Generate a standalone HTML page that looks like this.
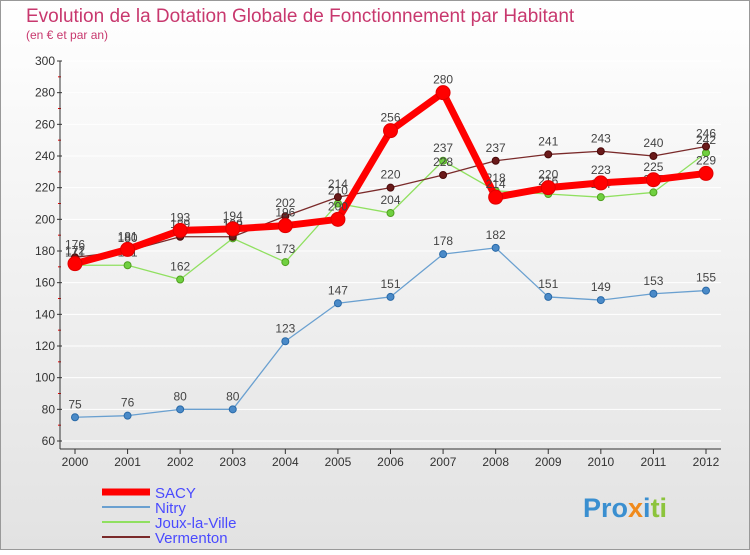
<!DOCTYPE html>
<html><head><meta charset="utf-8"><style>
body{margin:0;width:750px;height:550px;overflow:hidden;font-family:"Liberation Sans",sans-serif;}
</style></head><body>
<svg id="c" width="750" height="550" xmlns="http://www.w3.org/2000/svg">
<defs><linearGradient id="bg" x1="0" y1="0" x2="0" y2="1"><stop offset="0" stop-color="#ffffff"/><stop offset="1" stop-color="#e2e2e2"/></linearGradient></defs>
<rect x="0.5" y="0.5" width="749" height="549" fill="url(#bg)" stroke="#999"/>
<text x="26" y="22" font-size="19" fill="#c8386e">Evolution de la Dotation Globale de Fonctionnement par Habitant</text>
<text x="26" y="39" font-size="12" fill="#c8386e">(en € et par an)</text>
<g id="axes"></g><g id="series"></g><g id="legend"></g>
<text x="583" y="517" font-size="27" font-weight="bold"><tspan fill="#3a8fd0">Pro</tspan><tspan fill="#f08a1c">x</tspan><tspan fill="#3a8fd0">i</tspan><tspan fill="#8cc43c">ti</tspan></text>
</svg>
<script>
const years=[2000,2001,2002,2003,2004,2005,2006,2007,2008,2009,2010,2011,2012];
const yTicks=[60,80,100,120,140,160,180,200,220,240,260,280,300];
const sacy=[172,181,193,194,196,200,256,280,214,220,223,225,229];
const nitry=[75,76,80,80,123,147,151,178,182,151,149,153,155];
const joux=[171,171,162,188,173,210,204,237,218,216,214,217,242];
const vermenton=[176,180,189,189,202,214,220,228,237,241,243,240,246];
const NS="http://www.w3.org/2000/svg";
const x0=75,x1=706,yTop=61,yBot=441,vMin=60,vMax=300;
const xs=i=>x0+(x1-x0)*i/(years.length-1);
const ys=v=>yBot-(v-vMin)/(vMax-vMin)*(yBot-yTop);
function mk(tag,at,parent){const e=document.createElementNS(NS,tag);for(const k in at)e.setAttribute(k,at[k]);parent.appendChild(e);return e;}
const ax=document.getElementById('axes');
yTicks.forEach(t=>{
 const g=mk('line',{x1:x0-15,x2:x1+15,y1:ys(t),y2:ys(t),stroke:'#fff','stroke-width':1},ax);
 
 
 const tk=mk('line',{x1:57,x2:62,y1:ys(t),y2:ys(t),stroke:'#333'},ax);
 
 
 const lb=mk('text',{x:55,y:ys(t)+4,'text-anchor':'end','font-size':12,fill:'#333'},ax);
 lb.textContent=t;
 
 
 if(t<300){const m=mk('line',{x1:58,x2:61,y1:ys(t+10),y2:ys(t+10),stroke:'#e00'},ax);
 
 }
});
const ya=mk('line',{x1:60,x2:60,y1:yTop,y2:yBot+8,stroke:'#333'},ax);


const xa=mk('line',{x1:60,x2:x1+15,y1:yBot+8,y2:yBot+8,stroke:'#333'},ax);


years.forEach((y,i)=>{
 const tk=mk('line',{x1:xs(i),x2:xs(i),y1:yBot+8,y2:yBot+13,stroke:'#333'},ax);
 
 
 const lb=mk('text',{x:xs(i),y:yBot+25,'text-anchor':'middle','font-size':12,fill:'#333'},ax);
 lb.textContent=y;
 
 
});
const S=document.getElementById('series');
function drawSeries(vals,name,color,lw,r,dotFill,dotStroke){
 const g=mk('g',{},S);
 
 
 const pl=mk('polyline',{points:vals.map((v,i)=>xs(i)+','+ys(v)).join(' '),fill:'none',stroke:color,'stroke-width':lw,'stroke-linejoin':'round'},g);
 
 
 vals.forEach((v,i)=>{
  const c=mk('circle',{cx:xs(i),cy:ys(v),r:r,fill:dotFill,stroke:dotStroke,'stroke-width':1},g);
  
  
  const t=mk('text',{x:xs(i),y:ys(v)-9,'text-anchor':'middle','font-size':12,fill:'#444'},g);
  t.textContent=v;
  
  
 });
}
drawSeries(nitry,'nitry','#6aa0d0',1.3,3.5,'#4a8ac8','#2a6aa8');
drawSeries(joux,'joux-la-ville','#90e060',1.3,3.5,'#70d040','#50a020');
drawSeries(vermenton,'vermenton','#7a2a2a',1.3,3.5,'#6a1a1a','#4a0a0a');
drawSeries(sacy,'sacy','#ff0000',7,7,'#ff0000','#e00000');
const L=document.getElementById('legend');
const leg=[['SACY','#ff0000',7],['Nitry','#6aa0d0',2],['Joux-la-Ville','#90e060',2],['Vermenton','#7a2a2a',2]];
leg.forEach((d,i)=>{
 const y=492+i*15;
 const g=mk('g',{},L);
 
 
 mk('line',{x1:102,x2:150,y1:y,y2:y,stroke:d[1],'stroke-width':d[2]},g);
 const t=mk('text',{x:155,y:y+6,'font-size':15,fill:'#4a4aff'},g);
 t.textContent=d[0];
});
</script>
</body></html>
